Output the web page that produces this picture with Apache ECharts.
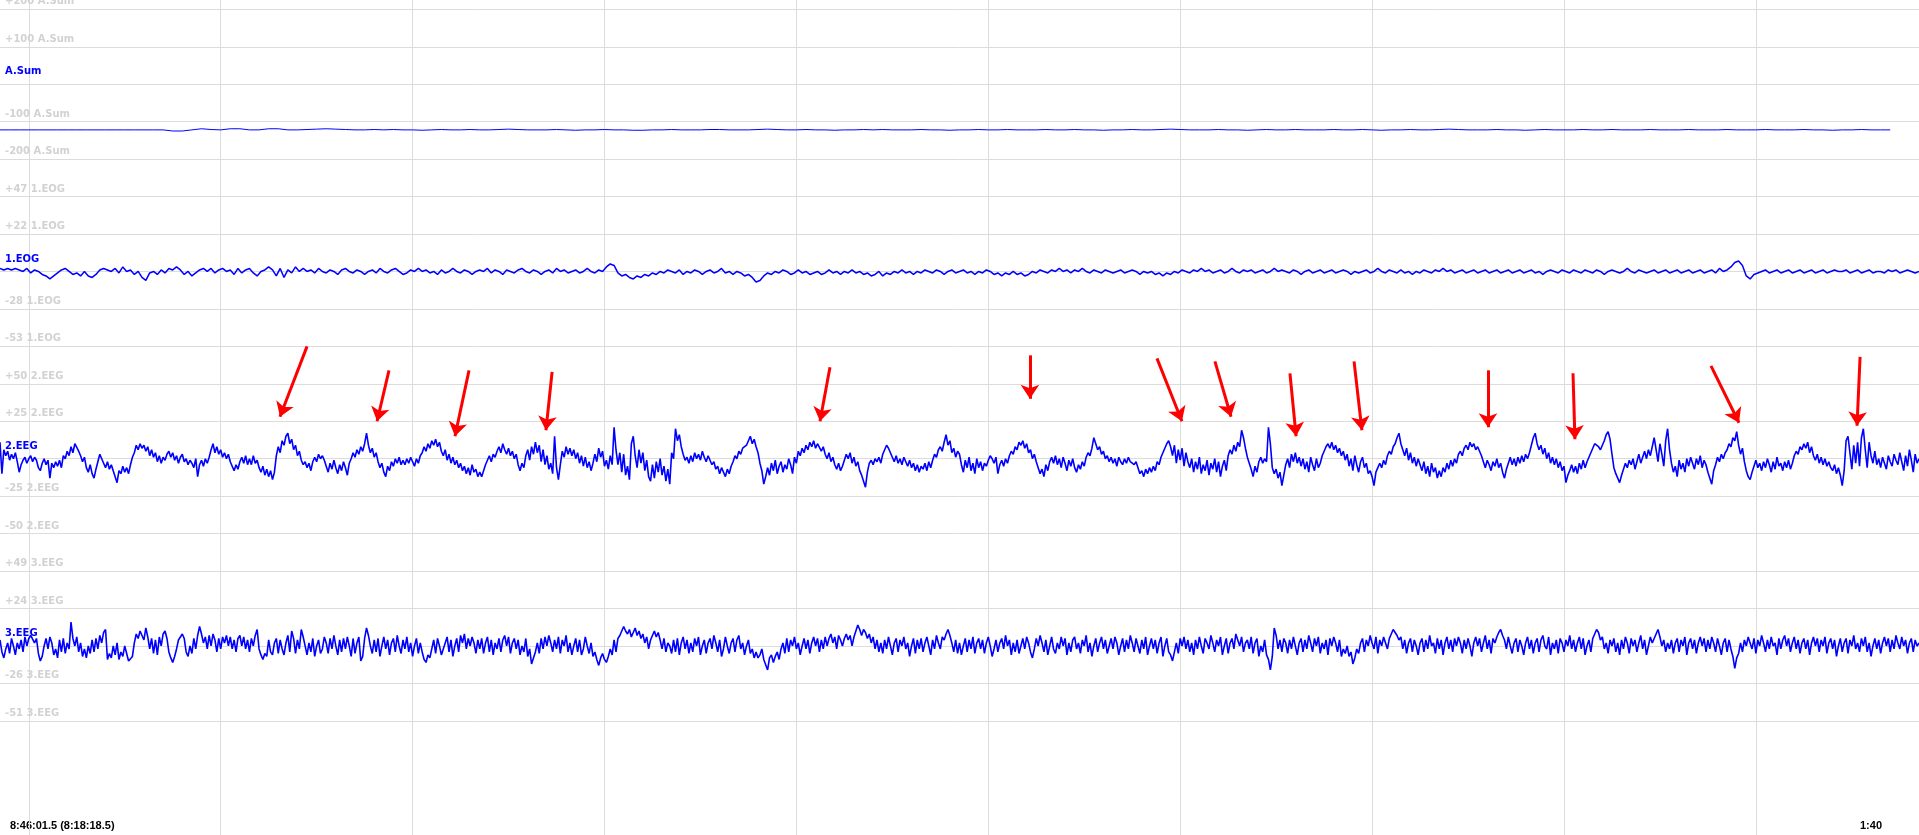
<!DOCTYPE html>
<html><head><meta charset="utf-8">
<script src="https://cdn.jsdelivr.net/npm/echarts@6/dist/echarts.min.js"></script>
<style>html,body{margin:0;padding:0;background:#fff;overflow:hidden}#chart{width:1919px;height:835px}</style>
</head><body><div id="chart"></div>
<script>
// ---- labels ----
const startLabel = '8:46:01.5 (8:18:18.5)';
const spanLabel = '1:40';
const screenSeconds = 100;          // 1:40 on screen
const gridSecondStep = 10;          // vertical grid every 10 s of the 8:18:xx clock
const firstLineSec = 1.5;           // 8:18:18.5 -> first line at 8:18:20

// ---- channels ----
const channelNames = ['A.Sum', '1.EOG', '2.EEG', '3.EEG'];
const channelCenters = [0, -3, 0, -1];
const channelSteps = [100, 25, 25, 25];
const aSumTickLabels = ['-200', '-100', '', '+100', '+200'];
const eogTickLabels = ['-53', '-28', '', '+22', '+47'];
const eeg2TickLabels = ['-50', '-25', '', '+25', '+50'];
const eeg3TickLabels = ['-51', '-26', '', '+24', '+49'];

// ---- sampled values (read from the recording) ----
const aSumInterval = 0.5;
const aSumValues = [
-122,-122,-122,-122,-122,-122,-122,-122,-122,-122,-122,-122,-122,-122,-122,-122,-122,-122,-125,-125,
-122,-119,-121,-122,-119,-119,-122,-122,-119,-119,-122,-122,-121,-120,-119,-120,-121,-122,-122,-121,
-122,-121,-122,-122,-123,-122,-121,-122,-122,-121,-122,-122,-121,-120,-121,-122,-122,-122,-121,-122,
-123,-122,-122,-121,-122,-122,-123,-123,-122,-122,-121,-122,-122,-122,-121,-121,-122,-122,-122,-121,
-120,-121,-122,-122,-121,-122,-122,-123,-122,-122,-121,-122,-121,-122,-122,-122,-121,-122,-122,-123,
-122,-122,-121,-122,-122,-121,-122,-122,-122,-121,-122,-122,-121,-122,-122,-123,-122,-122,-121,-122,
-122,-121,-120,-121,-122,-122,-122,-121,-122,-122,-123,-122,-121,-122,-122,-121,-122,-122,-122,-121,
-122,-122,-121,-122,-123,-122,-122,-121,-122,-122,-121,-120,-121,-122,-122,-122,-121,-122,-122,-123,
-122,-121,-122,-122,-122,-121,-122,-122,-121,-122,-122,-122,-121,-122,-122,-122,-121,-122,-122,-122,
-121,-122,-122,-122,-121,-122,-122,-122,-121,-122,-122,-123,-122,-122,-121,-122,-122,-122];

const eogInterval = 0.2;
const eogValues = [
-1,-2,-1,-2,-1, -2,-3,-1,-4,-2, -3,-5,-6,-8,-6, -4,-2,-1,-3,-5, -4,-6,-3,-6,-7, -5,-2,-1,-2,-3, -1,-4,0,-3,-2, -5,-3,-7,-9,-4, -3,-5,-2,-4,-1, -2,0,-2,-5,-3,
-6,-4,-2,-1,-3, -1,-4,-2,-1,-3, -2,-5,-1,-4,-2, -1,-4,-6,-3,-2, 0,-2,-6,-1,-7, -2,-4,0,-3,-1, -3,-2,-4,-1,-3, -4,-2,-3,-5,-2, -1,-3,-4,-2,-3, -5,-3,-2,-4,-1,
-3,-4,-2,-1,-3, -5,-4,-2,-3,-1, -3,-2,-4,-3,-5, -2,-4,-3,-1,-3, -4,-2,-3,-5,-3, -2,-3,-1,-4,-2, -3,-5,-2,-3,-4, -2,-1,-3,-4,-2, -3,-5,-3,-2,-4, -1,-3,-2,-4,-3,
-2,-4,-3,-1,-3, -4,-2,-3,0,2, 1,-4,-6,-5,-7, -8,-6,-7,-5,-6, -4,-5,-3,-4,-2, -3,-4,-2,-5,-3, -4,-2,-3,-5,-3, -2,-4,-3,-1,-4, -3,-5,-3,-4,-6, -5,-7,-10,-9,-6,
-4,-5,-3,-4,-2, -3,-5,-4,-2,-4, -3,-5,-4,-3,-5, -4,-2,-4,-3,-5, -3,-4,-2,-4,-3, -5,-4,-6,-5,-3, -6,-4,-5,-3,-4, -2,-4,-3,-5,-3, -4,-2,-3,-4,-2, -3,-5,-3,-2,-4,
-3,-2,-4,-3,-5, -3,-4,-2,-3,-5, -4,-6,-4,-5,-3, -5,-4,-6,-5,-3, -4,-2,-3,-4,-2, -3,-1,-3,-2,-4, -2,-3,-1,-3,-4, -2,-3,-4,-2,-3, -4,-3,-2,-4,-3, -2,-3,-5,-3,-4,
-3,-5,-4,-6,-4, -5,-3,-4,-2,-3, -4,-2,-3,-1,-3, -2,-4,-3,-2,-4, -3,-1,-3,-4,-2, -3,-2,-4,-3,-2, -4,-3,-1,-3,-2, -3,-4,-2,-3,-5, -3,-2,-4,-3,-2, -4,-3,-2,-4,-3,
-2,-3,-5,-3,-4, -3,-2,-4,-3,-1, -3,-4,-2,-3,-4, -2,-4,-3,-5,-3, -4,-2,-3,-4,-2, -3,-1,-3,-2,-4, -3,-2,-4,-3,-2, -4,-3,-2,-4,-3, -2,-4,-3,-2,-4, -3,-2,-4,-3,-2,
-4,-3,-5,-3,-2, -3,-4,-2,-3,-4, -2,-3,-4,-2,-3, -4,-2,-3,-5,-3, -2,-3,-4,-3,-1, -3,-4,-2,-3,-4, -3,-2,-4,-3,-2, -4,-3,-2,-4,-3, -2,-4,-3,-2,-4, -3,-2,-4,-1,-3,
-2,0,3,4,1, -6,-8,-5,-4,-3, -2,-4,-3,-2,-4, -3,-2,-4,-3,-2, -4,-3,-2,-4,-3, -2,-4,-3,-2,-3, -3,-2,-4,-3,-2, -4,-3,-2,-4,-3, -3,-4,-2,-3,-2, -4,-3,-2,-3,-4,
-3];

const eeg2Interval = 0.1;
const eeg2Values = [
11,-10,6,2,5,-1,3,0,4,-2, -9,-4,-1,1,-3,0,2,-2,1,-1, -6,-8,-3,0,-4,-1,-13,-3,-6,-2, -5,-1,-6,2,0,5,2,8,4,10,
9,5,2,-2,1,-6,-9,-4,-10,-13, -7,-2,3,0,-3,-6,-2,-7,-4,-8, -12,-16,-8,-10,-5,-9,-6,-10,-4,1, 4,9,6,10,7,9,5,8,2,6,
1,4,-2,2,-3,1,-1,3,5,1, 4,-1,2,-3,1,3,-2,0,-4,-1, -3,-6,0,-12,-4,-1,-5,0,-3,1, 6,10,4,8,3,6,1,4,0,3,
-2,-5,-8,-4,-7,-2,1,-3,2,-4, 0,-4,2,-3,-1,-6,-9,-5,-11,-7, -12,-8,-14,-9,2,8,4,12,9,15, 17,10,13,6,9,2,5,-1,-4,-2,
-6,-3,-8,-2,1,-2,3,0,2,-1, -5,-9,-3,-7,-1,-6,-10,-4,-8,-2, -6,-11,-3,0,4,1,6,3,8,5, 10,17,9,4,7,1,4,-2,-6,-3,
-9,-12,-5,-8,-2,-5,0,-3,1,-4, -1,-4,0,-3,1,-2,-5,0,-3,2, 4,8,5,10,7,12,9,13,8,11, 5,2,6,-1,3,-3,1,-4,-1,-6,
-3,-8,-5,-10,-6,-11,-4,-9,-7,-12,
-9,-12,-8,-4,-1,2,-2,3,1,5, 8,4,10,6,3,7,2,5,0,3, -4,-8,-3,-6,2,6,-1,8,3,11, 4,9,-2,6,-4,2,-7,-3,-10,15,
-6,-14,-4,5,1,8,3,7,2,6, 0,4,-3,2,-5,1,-6,-2,-8,-3, 3,-2,7,1,5,-5,-1,-7,2,-4, 21,6,-4,4,-9,3,-11,-5,-14,10,
15,2,-6,6,-3,4,-8,-1,-12,-15, -4,-13,-2,-9,0,-11,-5,-15,-7,-17, 4,0,20,12,16,8,3,-1,1,-3, 2,-2,4,0,3,-1,5,1,-2,2,
-1,-4,-2,-7,-5,-10,-6,-9,-12,-7, -10,-5,-2,2,0,5,3,7,6,9, 12,15,10,13,8,4,-3,-8,-17,-12, -6,-11,-3,-8,-1,-10,-5,-2,-9,-4,
-7,0,-4,-10,1,-3,5,2,7,4, 9,6,11,8,12,7,10,9,5,8, 3,0,4,-2,1,-4,-7,-3,-8,-5, -1,3,0,4,-3,1,-5,-2,-8,-11,
-15,-19,-9,-3,-1,-4,0,-2,1,-3, 3,6,9,7,4,1,-2,2,-3,0, -4,1,-2,-5,-1,-6,-3,-8,-4,-9, -5,-7,-3,-8,-2,-6,-1,3,1,6,
8,5,11,16,9,12,4,7,1,5,
3,-4,-9,-1,-6,1,-8,-3,-10,0, -6,-2,-8,-3,-5,-1,2,0,-3,1, -10,-4,-1,-5,0,-3,2,5,3,8, 6,11,9,12,7,10,4,6,0,3,
-2,-6,-10,-7,-12,-4,-8,-2,1,-3, 2,-4,0,-6,1,-3,-8,-1,-5,0, -6,-9,-4,-7,-2,-5,1,4,2,7, 14,10,6,8,3,5,0,2,-2,1,
-3,0,-5,1,-2,-4,0,-3,1,-2, -1,-4,-2,-6,-10,-8,-12,-7,-10,-6, -9,-5,-8,-2,-4,1,4,7,10,12, 8,2,9,-3,6,-1,7,-5,4,-2,
-6,0,-9,-2,-7,1,-10,-4,-8,-1, -11,-3,-7,0,-9,-2,-12,-5,-1,-8, 2,6,3,9,5,11,8,19,14,7, 1,-3,-7,-12,-5,-9,-2,1,-3,0,
-2,21,10,-6,-10,-7,-13,-9,-18,-11, -4,0,-6,3,-2,4,-3,1,-5,0, -7,-2,-9,1,-4,-8,0,-6,-3,2, 5,8,10,7,11,6,9,4,7,2,
5,-1,3,-5,0,-8,2,-4,-9,-2, 1,-6,-3,-10,-8,-12,-18,-9,-6,-3, -6,-1,-4,2,5,3,8,10,14,17, 10,6,2,7,-1,4,-3,1,-5,0,
-4,-8,-2,-10,-5,-12,-3,-9,-6,-13,
-8,-12,-6,-9,-3,-7,-1,-5,0,-3, 3,5,2,7,9,6,11,8,10,6, 8,5,2,-2,-6,-1,-4,-8,-2,-5, 0,-6,-3,-9,-13,-7,-3,1,-4,0,
-5,1,-3,2,-2,3,0,4,9,14, 17,10,6,9,3,7,0,4,-3,1, -4,0,-6,-2,-8,-5,-16,-11,-8,-4, -9,-5,-10,-3,-7,-1,-6,-2,1,4,
7,10,11,8,6,9,12,16,18,13, 3,-6,-10,-13,-16,-11,-7,-3,-6,-1, -4,0,-7,-2,3,-3,1,5,0,6, 2,8,14,6,-2,10,3,-5,12,20,
6,-3,-9,-5,-12,-1,-7,-3,-9,0, -5,1,-3,-7,0,-4,2,-6,-1,-4, -9,-13,-17,-8,-4,1,-2,3,0,4, 6,10,8,14,12,18,9,3,7,-2,
-8,-12,-14,-9,-5,-1,-6,-3,-8,-2, -6,0,-4,-9,-2,-7,1,-5,-3,-8, -2,-6,-1,-7,-3,2,5,3,8,6, 10,7,11,4,8,2,-1,3,-3,1,
-4,0,-5,-2,-6,-8,-4,-10,-6,-11, -18,-8,12,15,4,-7,9,-3,11,-5, 14,20,6,-6,11,2,-3,5,-4,0, -6,1,-3,-7,2,-2,-5,3,-1,-4,
4,-2,-8,2,-5,6,-1,-9,3,-3, 0];

const eeg3Interval = 0.1;
const eeg3Values = [
3,-5,-9,-3,1,-6,4,-1,-7,1, -3,3,-5,5,-1,4,6,5,1,4, -6,-11,-8,-1,4,-3,5,1,-7,-3, -9,3,-5,4,-6,1,-3,15,4,-1,
5,-5,1,-8,-3,-9,-1,-6,3,-5, 4,-3,6,1,8,10,-10,-6,-9,-1, -7,1,-10,-5,-8,-1,-6,-11,-10,-8, 1,7,4,9,6,3,11,5,-3,4,
-6,3,-7,5,-1,7,9,4,-5,-9, -12,-8,-3,3,5,7,4,-5,-8,-1, -6,4,-3,6,12,7,1,5,-3,6, -1,7,3,-5,4,-3,5,1,6,-1,
5,-3,3,-5,4,6,-1,5,-3,3, -5,4,-1,6,10,-3,-7,-10,-6,-8, 3,-5,-7,1,4,-6,3,-3,-7,1, 6,-5,9,4,-6,3,-3,10,5,-1,
-7,1,-5,4,-8,-1,3,-6,-3,5, 1,-6,4,-3,6,-1,-7,3,-5,4, -3,5,-1,-8,4,-6,1,5,-11,-8, 4,11,6,-1,-6,3,-5,4,-8,-1,
5,-3,3,-7,1,4,-5,6,-1,-6, 3,-3,5,-5,1,-8,-1,4,-6,1, -5,-10,-12,-7,-9,-3,3,-6,4,-1, -7,-3,1,5,-5,3,-8,-1,4,-5,
6,1,7,-3,4,-1,5,1,-6,3, -3,4,-6,1,5,-5,3,-7,1,-3, 4,-5,3,6,-1,5,-6,1,4,-3, 3,-7,-1,-5,4,-8,-3,-13,-9,-5,
1,-6,4,-3,5,-1,6,1,-5,3, -3,5,-6,3,-1,6,-5,1,-7,-1, 4,-5,3,-7,-3,5,-1,-6,1,-8, -5,-10,-14,-9,-6,-10,-12,-8,-3,-7,
3,-5,4,6,9,12,9,7,10,5, 8,11,6,9,4,7,1,5,-3,3, 6,9,5,8,3,-3,4,-5,1,-1, -6,3,-5,4,-7,1,5,-3,3,-6,
1,-5,4,-1,5,-7,-1,3,-6,1, 4,-3,6,1,-5,3,-8,-3,5,-1, -6,1,4,-5,3,6,-3,1,-7,-1, 3,-6,-3,-9,-5,-9,-7,-3,-10,-11,
-17,-9,-7,-12,-8,-5,-10,-3,1,-6, 4,-5,3,-1,5,-3,1,-7,-1,4, -3,3,-6,1,5,-1,4,-5,3,-3, 5,-1,4,7,1,5,-3,6,3,-1,
4,7,3,6,-1,5,9,13,10,6, 10,8,4,7,1,5,-3,3,-5,1, -6,3,-3,5,-1,-7,1,4,-5,3, -1,5,-3,1,-8,-1,4,-6,3,-3,
4,-5,1,5,-1,-7,3,-3,6,1, -3,5,3,7,10,6,1,-5,3,-6, 1,-7,-1,4,-5,3,-3,5,-6,1, 4,-3,3,-6,1,5,-1,-8,-3,3,
-5,1,4,-3,6,-1,3,-7,1,-5, 3,-6,-1,4,-3,5,1,-5,-9,-3, 4,-1,6,1,-5,3,-7,-1,5,-3, -6,1,-3,5,-1,4,-7,1,-5,3,
5,-3,1,-6,3,-1,6,-5,1,-8, -1,4,-5,1,5,-3,3,-6,-1,4, -3,5,1,-7,-1,4,-5,3,-3,6, 1,-5,4,-1,-6,3,-3,5,-7,-1,
4,-3,3,-6,1,5,-8,-1,4,-5, -7,-11,-5,1,-6,4,-1,5,-3,3, -5,1,-7,3,-3,5,-1,-6,4,1, -3,6,1,-5,3,-1,5,-7,-1,4,
-6,1,4,-3,7,3,-1,5,-5,1, 3,-3,5,-6,1,4,-8,-1,-5,3, -7,-10,-17,-8,11,6,-3,3,-5,4, 1,-6,3,-3,5,-1,-7,1,4,-5,
3,-3,6,1,-5,4,-1,5,-6,1, -3,3,-7,4,-1,5,1,-5,3,-8, -3,-6,-1,-8,-5,-13,-9,-3,-6,1, 4,-5,3,-1,6,1,-3,5,-6,3,
-1,5,1,-3,4,7,10,10,6,3, 5,-3,3,-6,1,4,-5,3,-1,-7, 1,4,-5,3,-3,6,-1,1,-6,4, -3,3,-7,1,5,-3,3,-5,4,-1,
5,1,-6,3,-3,4,-1,-8,1,5, -1,4,-5,1,6,-3,3,-6,4,1, 5,8,10,6,3,-3,5,-1,-6,1, 4,-5,3,-1,-7,1,5,-3,3,-6,
1,4,-5,3,6,-1,-3,5,-7,1, -3,3,-6,4,1,-5,3,-1,6,-3, 3,-5,1,5,-3,4,-7,-1,3,-5, 4,7,10,8,3,5,-3,1,-6,3,
-1,4,-5,1,-7,3,-3,5,1,-6, 4,-1,3,-5,1,6,-3,3,-7,-1, 5,1,4,7,10,5,-1,3,-5,1, -3,3,-6,1,4,-5,3,-1,5,-7,
1,4,-3,3,-6,1,5,-1,4,-5, 3,-3,5,1,-5,4,-1,-7,1,4, -5,3,-3,-8,-16,-9,-6,1,-5,3, -1,5,1,-3,4,-6,3,-1,6,1,
-5,3,-3,5,-1,1,-7,4,-3,3, 6,-1,4,-5,1,5,-3,3,-6,1, 4,-3,3,-7,1,5,-1,4,-5,3, -1,5,-6,1,4,-3,3,-8,-1,4,
-5,1,4,-6,3,-1,6,-3,1,-5, 4,-1,5,-5,1,-8,-1,4,-3,3, -6,1,5,-1,4,-5,3,-3,6,1, -3,5,-1,3,-6,1,4,-5,3,-1,
1];

// ---- arrow annotations on 2.EEG (seconds, µV) ----
const arrowStarts = [[16.0,75],[20.27,59],[24.44,59],[28.77,58],[43.25,61],[53.67,69],[60.29,67],[63.31,65],[67.22,57],[70.56,65],[77.54,59],[81.97,57],[89.16,62],[96.93,68]];
const arrowTips   = [[14.59,28],[19.65,25],[23.71,15],[28.45,19],[42.73,25],[53.67,40],[61.59,25],[64.15,28],[67.54,15],[70.97,19],[77.54,21],[82.07,13],[90.62,24],[96.77,22]];

// ---- build ----
const W = 1919;
const rowTop = 9.3, rowGap = 37.45;
const tickLabelSets = [aSumTickLabels, eogTickLabels, eeg2TickLabels, eeg3TickLabels];
const valueSets = [aSumValues, eogValues, eeg2Values, eeg3Values];
const intervalSets = [aSumInterval, eogInterval, eeg2Interval, eeg3Interval];
const lineWidths = [1, 1.5, 1.6, 1.6];
const pxPerSec = W / screenSeconds;
const gridColor = '#dcdcdc';

// background grid: clock axis relative to 8:18:20 running from -10 s to +100 s
const grids = [{outerBoundsMode: 'none', containLabel: false,
  left: (firstLineSec - gridSecondStep) * pxPerSec, top: 0, bottom: 0,
  width: (screenSeconds + gridSecondStep) * pxPerSec}];
const xAxes = [{gridIndex: 0, type: 'value', min: -gridSecondStep, max: screenSeconds, interval: gridSecondStep,
  axisLine: {show: false}, axisTick: {show: false}, axisLabel: {show: false},
  splitLine: {show: true, lineStyle: {color: gridColor, width: 1}}}];
const yAxes = [{gridIndex: 0, type: 'value', show: false, min: 0, max: 1}];
const series = [];

const labelFont = 'DejaVu Sans';
channelNames.forEach((name, k) => {
  const g = k + 1;
  grids.push({outerBoundsMode: 'none', containLabel: false, left: 0, right: 0, top: rowTop + rowGap * 5 * k, height: rowGap * 4});
  xAxes.push({gridIndex: g, type: 'value', min: 0, max: screenSeconds, show: false});
  const step = channelSteps[k];
  const labels = tickLabelSets[k];
  yAxes.push({gridIndex: g, type: 'value', min: -2 * step, max: 2 * step, interval: step,
    axisLine: {show: false}, axisTick: {show: false},
    splitLine: {show: true, lineStyle: {color: gridColor, width: 1}},
    axisLabel: {show: true, inside: true, margin: 5, verticalAlign: 'bottom', showMinLabel: true, showMaxLabel: true,
      formatter: (v) => {
        const idx = Math.round(v / step) + 2;
        return idx === 2 ? '{c|' + name + '}' : '{g|' + labels[idx] + ' ' + name + '}';
      },
      rich: {
        g: {color: '#d2d2d2', fontFamily: labelFont, fontWeight: 'bold', fontSize: 10, lineHeight: 12, padding: [0, 0, 3, 0]},
        c: {color: '#0000ff', fontFamily: labelFont, fontWeight: 'bold', fontSize: 10, lineHeight: 12, padding: [0, 0, 13, 0]}
      }}
  });
  const dt = intervalSets[k];
  const c = channelCenters[k];
  series.push({type: 'line', xAxisIndex: g, yAxisIndex: g, showSymbol: false, animation: false, silent: true,
    lineStyle: {color: '#0000ff', width: lineWidths[k]}, itemStyle: {color: '#0000ff'},
    data: valueSets[k].map((v, i) => [i * dt, v - c])});
});

series.push({type: 'lines', coordinateSystem: 'cartesian2d', xAxisIndex: 3, yAxisIndex: 3, clip: false,
  animation: false, silent: true, z: 10,
  symbol: ['none', 'arrow'], symbolSize: [0, 14],
  lineStyle: {color: '#ff0000', width: 3, opacity: 1, curveness: 0},
  data: arrowStarts.map((s, i) => ({coords: [s, arrowTips[i]]}))});

const chart = echarts.init(document.getElementById('chart'), null, {renderer: 'canvas'});
chart.setOption({
  backgroundColor: '#ffffff',
  animation: false,
  grid: grids, xAxis: xAxes, yAxis: yAxes, series: series,
  graphic: [
    {type: 'text', left: 10, top: 820, style: {text: startLabel, fill: '#000', font: 'bold 11px "Liberation Sans"'}},
    {type: 'text', left: 1860, top: 820, style: {text: spanLabel, fill: '#000', font: 'bold 11px "Liberation Sans"'}}
  ]
});
</script></body></html>
